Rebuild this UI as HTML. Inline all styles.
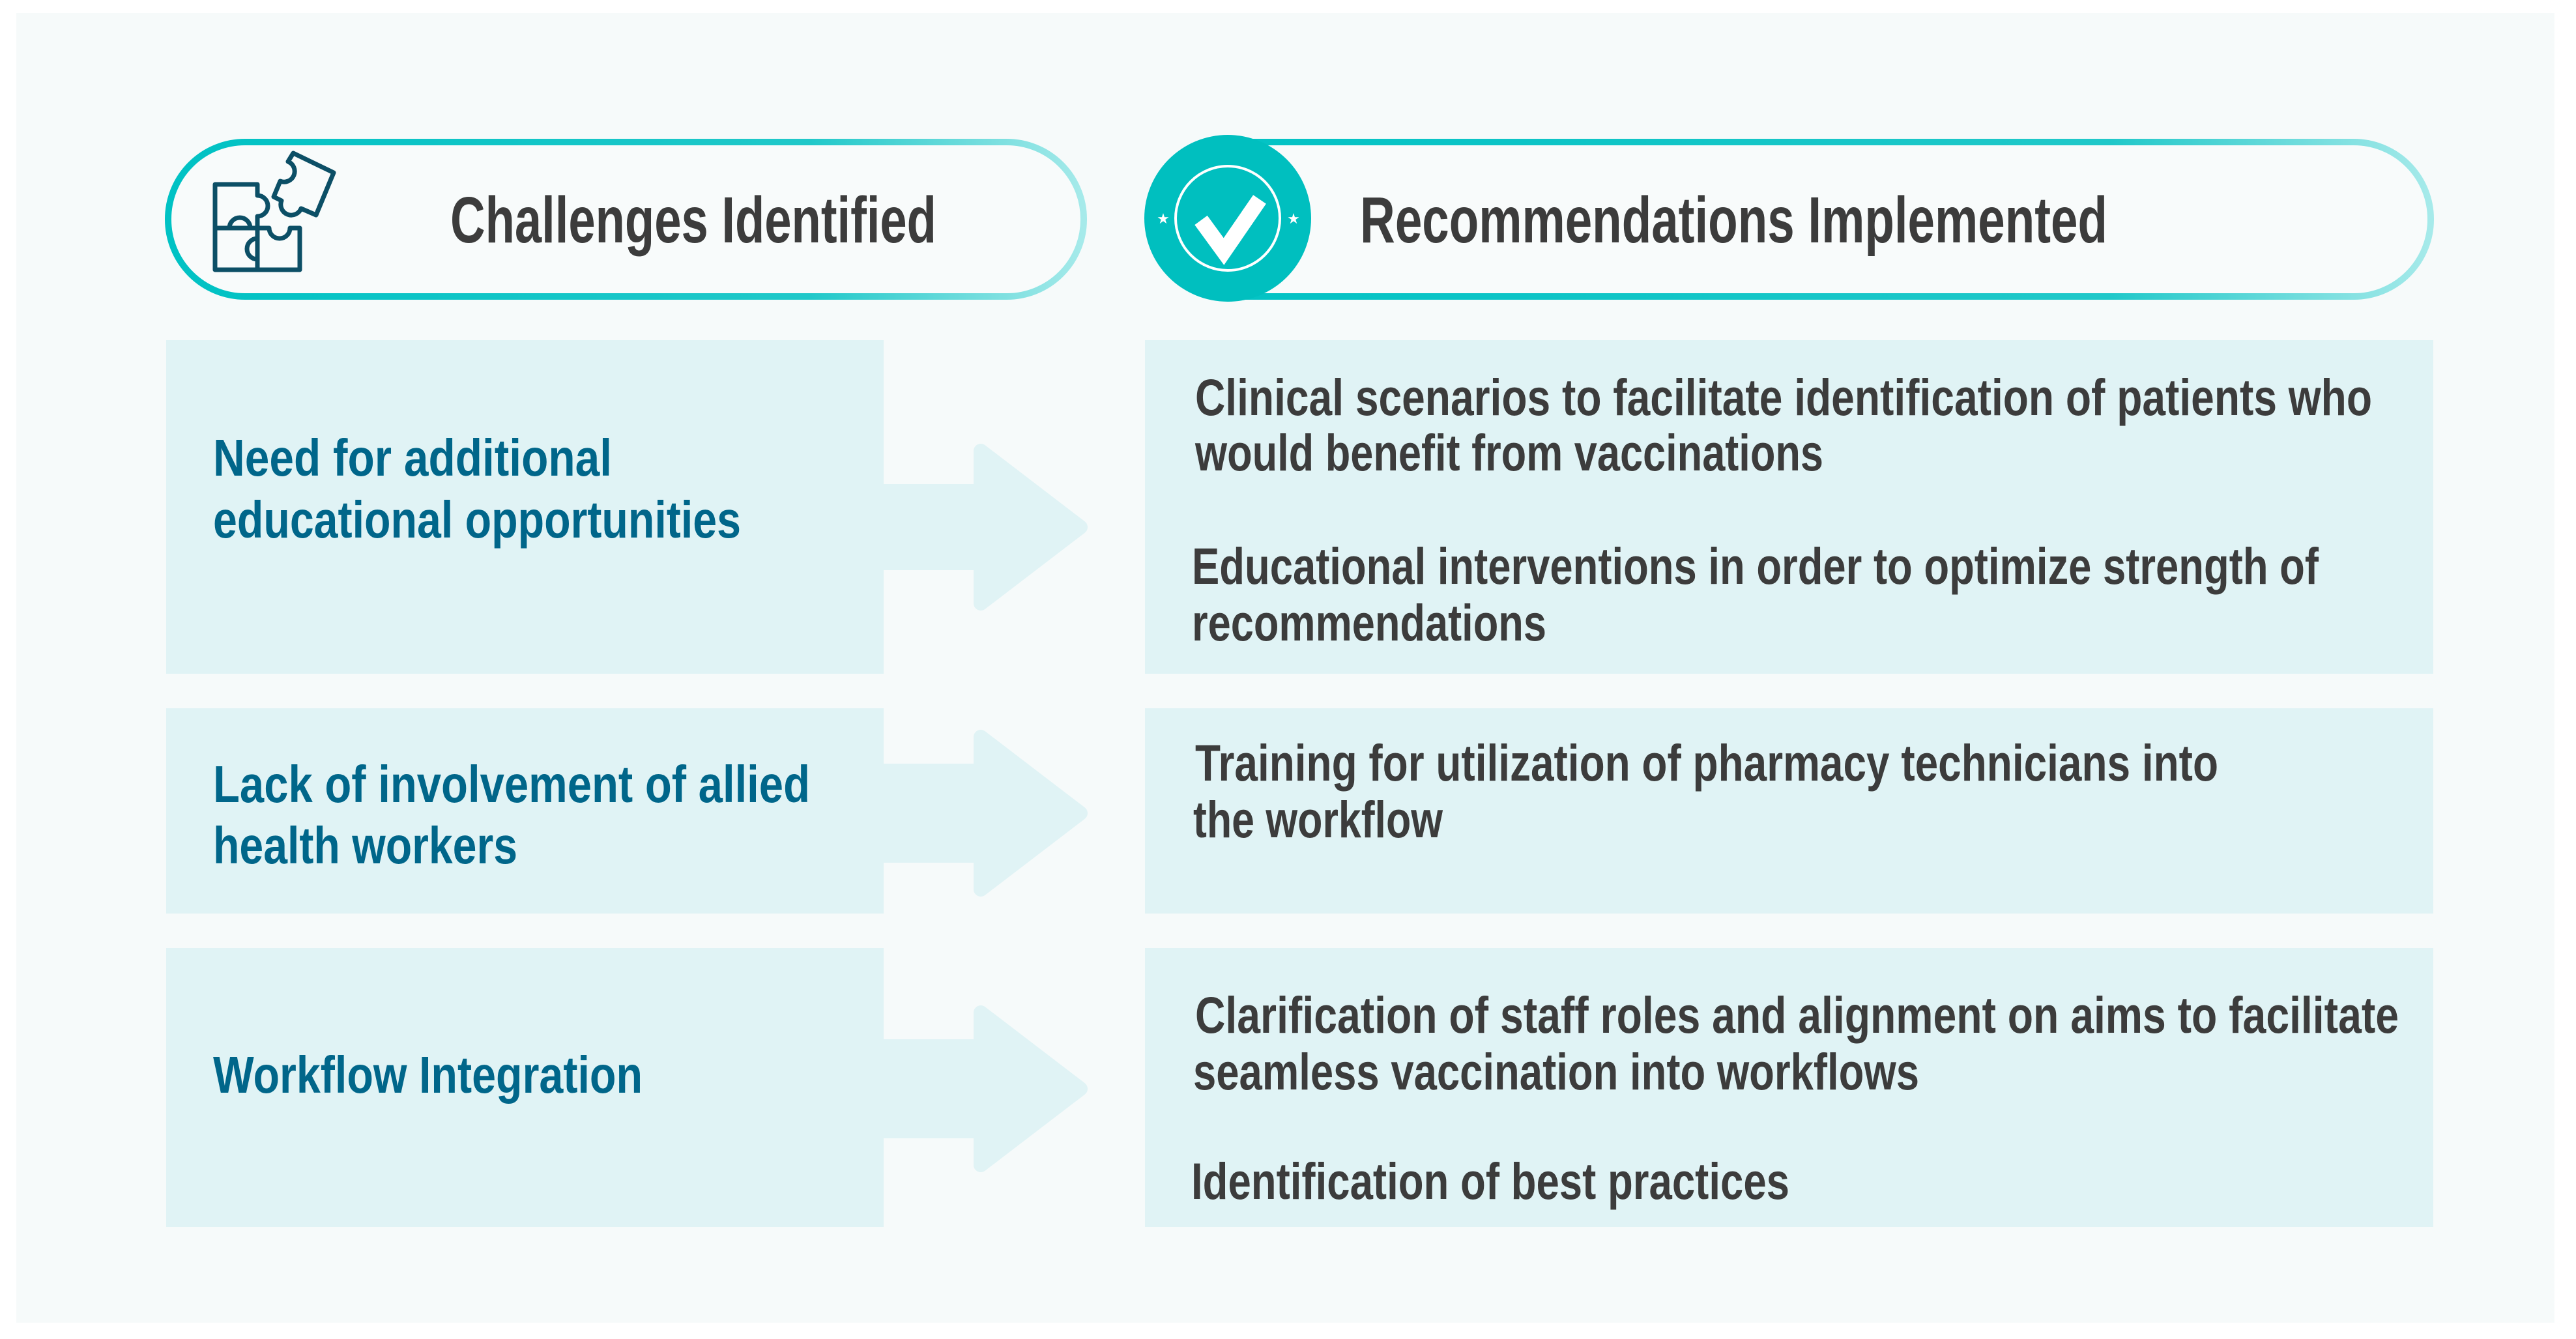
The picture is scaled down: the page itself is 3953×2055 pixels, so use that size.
<!DOCTYPE html>
<html><head><meta charset="utf-8"><style>
html,body{margin:0;padding:0;background:#fff;}
svg{display:block}
</style></head><body>
<svg width="3953" height="2055" viewBox="0 0 3953 2055" xmlns="http://www.w3.org/2000/svg">
<defs>
<linearGradient id="g1" x1="0" x2="1" y1="0" y2="0"><stop offset="0" stop-color="#00c2c4"/><stop offset="0.7" stop-color="#20c8c9"/><stop offset="1" stop-color="#a6eaea"/></linearGradient>
<linearGradient id="g2" x1="0" x2="1" y1="0" y2="0"><stop offset="0" stop-color="#00c2c4"/><stop offset="0.75" stop-color="#20c8c9"/><stop offset="1" stop-color="#a6eaea"/></linearGradient>
</defs>
<rect x="25" y="20" width="3895" height="2010" fill="#f6fafa"/>
<rect x="258" y="218" width="1405" height="237" rx="118" fill="#f8fbfb" stroke="url(#g1)" stroke-width="10"/>
<rect x="1763" y="218" width="1967" height="237" rx="118" fill="#f8fbfb" stroke="url(#g2)" stroke-width="10"/>
<circle cx="1884" cy="335" r="128" fill="#00bfbf"/>
<circle cx="1884" cy="335" r="80" fill="none" stroke="#fff" stroke-width="4"/>
<path d="M1843 338 L1878 386 L1933 306" fill="none" stroke="#fff" stroke-width="24" stroke-linejoin="miter"/>
<text x="1785" y="343" font-size="22" fill="#fff" text-anchor="middle" font-family="DejaVu Sans">★</text>
<text x="1985" y="343" font-size="22" fill="#fff" text-anchor="middle" font-family="DejaVu Sans">★</text>
<g fill="none" stroke="#0c4f66" stroke-width="7" stroke-linejoin="round">
<path d="M330 283 H395 V300 a16 16 0 0 1 0 32 V350 H330 Z"/>
<path d="M330 350 H352 a16 16 0 0 1 32 0 H395 V414 H330 Z"/>
<path d="M395 350 H413 a16 16 0 0 0 32 0 H460 V414 H395 V398 a16 16 0 0 1 0 -32 Z"/>
<path d="M450 235 L512 265 L485 330 L462 320 a16 16 0 0 1 -30 -12 L420 302 L430 278 a16 16 0 0 0 12 -30 Z"/>
</g>
<g fill="#e0f3f5">
<rect x="255" y="522" width="1101" height="512"/>
<rect x="1757" y="522" width="1977" height="512"/>
<rect x="255" y="1087" width="1101" height="315"/>
<rect x="1757" y="1087" width="1977" height="315"/>
<rect x="255" y="1455" width="1101" height="428"/>
<rect x="1757" y="1455" width="1977" height="428"/>
</g>
<g fill="#e0f3f5" stroke="#e0f3f5" stroke-width="22" stroke-linejoin="round">
<path d="M1350 754 H1505 V692 L1658 809 L1505 926 V864 H1350 Z"/>
<path d="M1350 1183 H1505 V1131 L1658 1248 L1505 1365 V1313 H1350 Z"/>
<path d="M1350 1606 H1505 V1554 L1658 1671 L1505 1788 V1736 H1350 Z"/>
</g>
<g font-family="'Liberation Sans Narrow','Liberation Sans',sans-serif" font-weight="bold" fill="#3c3c3c" font-size="100">
<text x="691" y="372" textLength="746" lengthAdjust="spacingAndGlyphs">Challenges Identified</text>
<text x="2087" y="372" textLength="1147" lengthAdjust="spacingAndGlyphs">Recommendations Implemented</text>
</g>
<g font-family="'Liberation Sans Narrow','Liberation Sans',sans-serif" font-weight="bold" fill="#00668a" font-size="80">
<text x="327" y="730" textLength="612" lengthAdjust="spacingAndGlyphs">Need for additional</text>
<text x="327" y="825" textLength="810" lengthAdjust="spacingAndGlyphs">educational opportunities</text>
<text x="327" y="1231" textLength="916" lengthAdjust="spacingAndGlyphs">Lack of involvement of allied</text>
<text x="327" y="1325" textLength="467" lengthAdjust="spacingAndGlyphs">health workers</text>
<text x="327" y="1677" textLength="659" lengthAdjust="spacingAndGlyphs">Workflow Integration</text>
</g>
<g font-family="'Liberation Sans Narrow','Liberation Sans',sans-serif" font-weight="bold" fill="#3c3c3c" font-size="79">
<text x="1834" y="637" textLength="1806" lengthAdjust="spacingAndGlyphs">Clinical scenarios to facilitate identification of patients who</text>
<text x="1834" y="722" textLength="964" lengthAdjust="spacingAndGlyphs">would benefit from vaccinations</text>
<text x="1829" y="896" textLength="1729" lengthAdjust="spacingAndGlyphs">Educational interventions in order to optimize strength of</text>
<text x="1829" y="983" textLength="544" lengthAdjust="spacingAndGlyphs">recommendations</text>
<text x="1834" y="1198" textLength="1570" lengthAdjust="spacingAndGlyphs">Training for utilization of pharmacy technicians into</text>
<text x="1831" y="1285" textLength="383" lengthAdjust="spacingAndGlyphs">the workflow</text>
<text x="1834" y="1585" textLength="1847" lengthAdjust="spacingAndGlyphs">Clarification of staff roles and alignment on aims to facilitate</text>
<text x="1831" y="1672" textLength="1114" lengthAdjust="spacingAndGlyphs">seamless vaccination into workflows</text>
<text x="1828" y="1840" textLength="918" lengthAdjust="spacingAndGlyphs">Identification of best practices</text>
</g>
</svg>
</body></html>
